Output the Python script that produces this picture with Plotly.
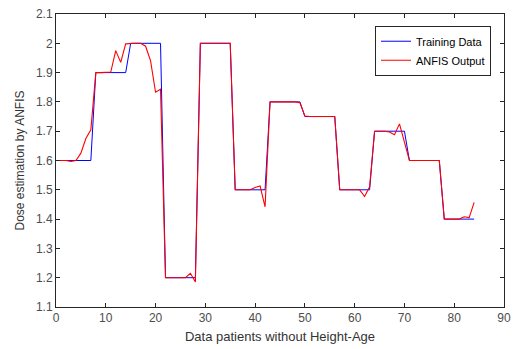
import plotly.graph_objects as go

x = list(range(0, 85))

training = ([1.6] * 8 + [1.9] * 7 + [2.0] * 7 + [1.2] * 7 + [2.0] * 7 + [1.5] * 7 +
            [1.8] * 7 + [1.75] * 7 + [1.5] * 7 + [1.7] * 7 + [1.6] * 7 + [1.4] * 7)

anfis = [1.6, 1.6, 1.6, 1.597, 1.6, 1.625, 1.675, 1.705,
         1.9, 1.9, 1.9, 1.902, 1.975, 1.935, 1.998,
         2.0, 2.0, 2.0, 1.99, 1.94, 1.833, 1.843,
         1.2, 1.2, 1.2, 1.2, 1.2, 1.215, 1.185,
         2.0, 2.0, 2.0, 2.0, 2.0, 2.0, 2.0,
         1.5, 1.5, 1.5, 1.5, 1.508, 1.513, 1.442,
         1.8, 1.8, 1.8, 1.8, 1.8, 1.8, 1.797,
         1.752, 1.75, 1.75, 1.75, 1.75, 1.75, 1.75,
         1.5, 1.5, 1.5, 1.5, 1.5, 1.477, 1.51,
         1.7, 1.7, 1.7, 1.697, 1.688, 1.725, 1.66,
         1.6, 1.6, 1.6, 1.6, 1.6, 1.6, 1.6,
         1.4, 1.4, 1.4, 1.4, 1.408, 1.405, 1.457]

x_ticks = [0, 10, 20, 30, 40, 50, 60, 70, 80, 90]
y_ticks = [1.1, 1.2, 1.3, 1.4, 1.5, 1.6, 1.7, 1.8, 1.9, 2.0, 2.1]
y_tick_labels = ["1.1", "1.2", "1.3", "1.4", "1.5", "1.6", "1.7", "1.8", "1.9", "2", "2.1"]

fig = go.Figure()
fig.add_trace(go.Scatter(x=x, y=training, mode="lines", name="Training Data",
                         line=dict(color="#0000ff", width=1)))
fig.add_trace(go.Scatter(x=x, y=anfis, mode="lines", name="ANFIS Output",
                         line=dict(color="#ff0000", width=1.1)))

font = "Liberation Sans, Arial, sans-serif"
axis_common = dict(showline=True, linecolor="#262626", linewidth=1, mirror="ticks",
                   ticks="inside", ticklen=4, tickcolor="#262626", showgrid=False,
                   zeroline=False, tickfont=dict(family=font, size=12, color="#4d4d4d"))

fig.update_layout(
    width=518, height=349,
    margin=dict(l=56, r=7, t=13, b=40),
    paper_bgcolor="white", plot_bgcolor="white",
    xaxis=dict(range=[0, 90], tickvals=x_ticks,
               title=dict(text="Data patients without Height-Age", standoff=7,
                          font=dict(family=font, size=13, color="#333333")),
               **axis_common),
    yaxis=dict(range=[1.1, 2.1], tickvals=y_ticks, ticktext=y_tick_labels,
               title=dict(text="Dose estimation by ANFIS", standoff=8,
                          font=dict(family=font, size=12, color="#333333")),
               **axis_common),
    legend=dict(x=0.971, y=0.96, xanchor="right", yanchor="top",
                bgcolor="white", bordercolor="#262626", borderwidth=1,
                font=dict(family=font, size=11, color="#000000"),
                tracegroupgap=0, itemwidth=30),
    showlegend=True,
)

fig.write_html("out.html")
